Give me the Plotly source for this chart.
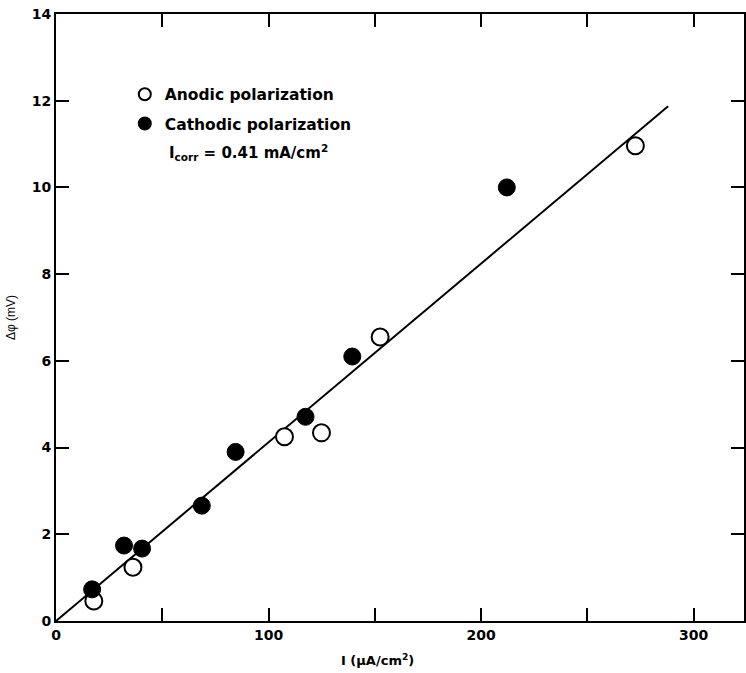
import plotly.graph_objects as go

# Data
anodic_i = [17.8, 36.2, 107.5, 124.9, 152.5, 272.6]
anodic_dphi = [0.46, 1.24, 4.25, 4.34, 6.55, 10.96]

cathodic_i = [17.0, 32.0, 40.5, 68.6, 84.5, 117.4, 139.4, 212.1]
cathodic_dphi = [0.73, 1.74, 1.67, 2.66, 3.90, 4.71, 6.10, 10.00]

fit_i = [0, 288]
fit_dphi = [0, 11.87]

x_tickvals = [0, 100, 200, 300]
x_ticktext = ["0", "100", "200", "300"]
y_tickvals = [0, 2, 4, 6, 8, 10, 12, 14]
y_ticktext = ["0", "2", "4", "6", "8", "10", "12", "14"]

FONT = "DejaVu Sans, sans-serif"
LFONT = "Liberation Sans, Arial, sans-serif"

fig = go.Figure()
fig.add_trace(go.Scatter(
    x=fit_i, y=fit_dphi, mode="lines",
    line=dict(color="black", width=2), showlegend=False, hoverinfo="skip"))
fig.add_trace(go.Scatter(
    x=anodic_i, y=anodic_dphi, mode="markers", name="Anodic polarization",
    legendgroup="a",
    marker=dict(symbol="circle", size=17, color="white",
                line=dict(color="black", width=2))))
fig.add_trace(go.Scatter(
    x=cathodic_i, y=cathodic_dphi, mode="markers", name="Cathodic polarization",
    legendgroup="c",
    marker=dict(symbol="circle", size=17, color="black",
                line=dict(color="black", width=1))))

fig.update_layout(
    width=746, height=673,
    margin=dict(l=56, r=0, t=14, b=52),
    paper_bgcolor="white", plot_bgcolor="white",
    font=dict(family=FONT, color="black"),
    showlegend=True,
    legend=dict(
        x=0.1, y=0.895, xanchor="left", yanchor="top",
        bgcolor="rgba(0,0,0,0)", borderwidth=0,
        font=dict(family=FONT, size=15.5, weight="bold", color="black"),
        traceorder="grouped", tracegroupgap=6,
        itemsizing="constant",
    ),
    xaxis=dict(
        range=[0, 323.7], showgrid=False, zeroline=False,
        showline=True, linecolor="black", linewidth=2, mirror="all",
        ticks="inside", ticklen=13, tickwidth=2, tickcolor="black",
        tickvals=x_tickvals, ticktext=x_ticktext,
        minor=dict(ticks="inside", dtick=50, ticklen=13, tickwidth=2,
                   tickcolor="black", showgrid=False),
        tickfont=dict(family=FONT, size=14, weight="bold"),
    ),
    yaxis=dict(
        range=[0, 14], showgrid=False, zeroline=False,
        showline=True, linecolor="black", linewidth=2, mirror="ticks",
        ticks="inside", ticklen=13, tickwidth=2, tickcolor="black",
        tickvals=y_tickvals, ticktext=y_ticktext,
        tickfont=dict(family=FONT, size=14, weight="bold"),
        title=dict(text="Δφ (mV)",
                   font=dict(family=LFONT, size=12),
                   standoff=14),
    ),
    annotations=[
        dict(
            xref="paper", yref="paper", x=(167 - 56) / 690, y=1 - (152 - 14) / 607,
            xanchor="left", yanchor="middle", showarrow=False,
            text="I<sub>corr</sub> = 0.41 mA/cm<sup>2</sup>",
            font=dict(family=FONT, size=15, weight="bold", color="black"),
        ),
        dict(
            xref="paper", yref="paper", x=(378 - 56) / 690, y=-(660 - 621) / 607,
            xanchor="center", yanchor="middle", showarrow=False,
            text="I (μA/cm<sup>2</sup>)",
            font=dict(family=FONT, size=13, weight="bold", color="black"),
        ),
    ],
)

fig.write_html("out.html")
